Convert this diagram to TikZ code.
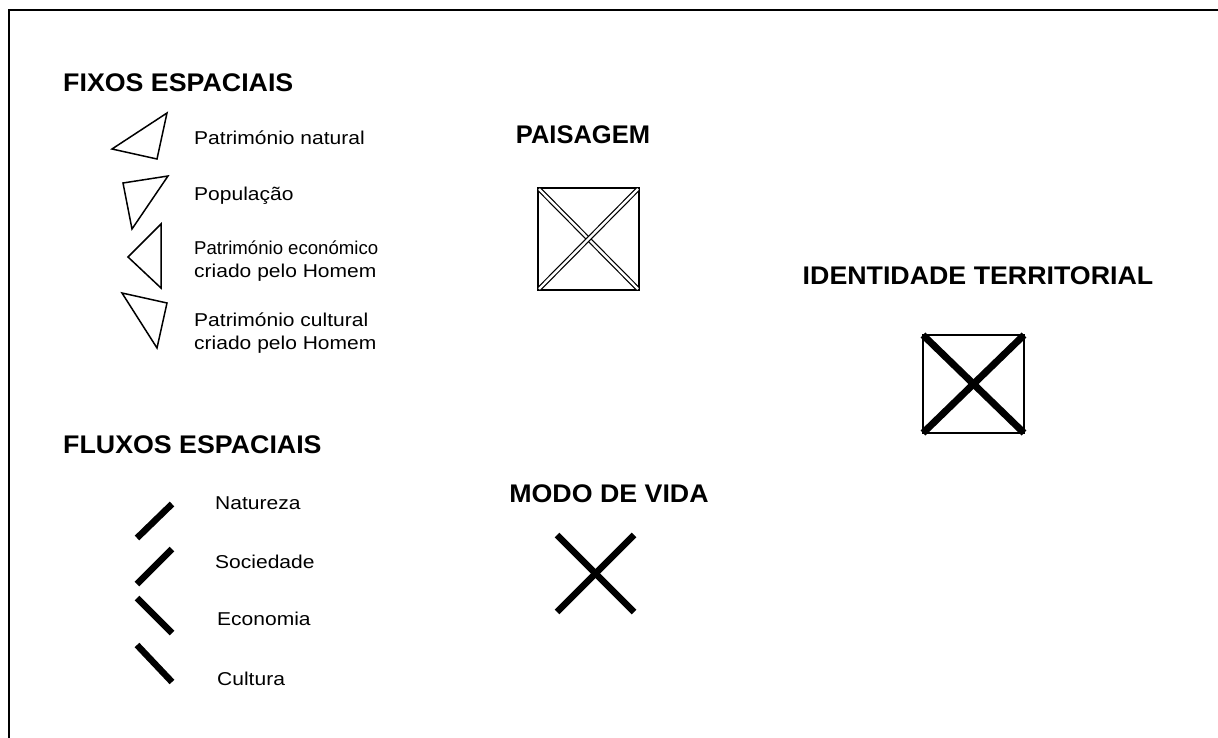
\documentclass[tikz,border=0pt]{standalone}
\usepackage{fontspec}
\setmainfont{Liberation Sans}
\newfontfamily\legendafont[FakeStretch=1.13]{Liberation Sans}
\newfontfamily\titulofont[FakeStretch=1.05]{Liberation Sans}
\usepackage{tikz}
\usetikzlibrary{positioning}

\tikzset{
    titletext/.style={font=\titulofont\fontsize{25.5}{30}\selectfont\bfseries, inner sep=0pt},
    labeltext/.style={font=\legendafont\fontsize{18.6}{22.3}\selectfont, inner sep=0pt, align=left},
    fixo/.style={line width=1.5pt, line join=miter},
    fluxo/.style={line width=6.5pt},
}

\begin{document}
\begin{tikzpicture}[x=1pt, y=-1pt]
    \useasboundingbox (0, 0) rectangle (1218, 738);

    % Frame (runs off the right and bottom edges)
    \draw[line width=1.8pt] (9, 760) -- (9, 10) -- (1240, 10);

    % Fixos espaciais
    \node[titletext, anchor=base west] (fixos) at (63, 92) {FIXOS ESPACIAIS};

    \draw[fixo] (112, 149) -- (167, 113) -- (157, 159) -- cycle;
    \node[labeltext, anchor=base west] (natural) at (194, 145) {Património natural};

    \draw[fixo] (123, 183) -- (168, 176) -- (132, 229) -- cycle;
    \node[labeltext, anchor=base west] (populacao) at (194, 201) {População};

    \draw[fixo] (161, 224) -- (128, 257) -- (161, 288) -- cycle;
    \node[labeltext, anchor=base west] (economico) at (194, 277)
        {\addfontfeature{FakeStretch=1.0}Património económico\\criado pelo Homem};

    \draw[fixo] (122, 293) -- (167, 303) -- (157, 348) -- cycle;
    \node[labeltext, anchor=base west] (cultural) at (194, 349) {Património cultural\\criado pelo Homem};

    % Fluxos espaciais
    \node[titletext, anchor=base west] (fluxos) at (63, 453) {FLUXOS ESPACIAIS};

    \draw[fluxo] (137, 538) -- (172, 504);
    \node[labeltext, anchor=base west] (natureza) at (215, 509) {Natureza};

    \draw[fluxo] (137, 584) -- (172, 549);
    \node[labeltext, anchor=base west] (sociedade) at (215, 568) {Sociedade};

    \draw[fluxo] (137, 598) -- (172, 633);
    \node[labeltext, anchor=base west] (economia) at (217, 625) {Economia};

    \draw[fluxo] (137, 645) -- (172, 682);
    \node[labeltext, anchor=base west] (cultura) at (217, 685) {Cultura};

    % Paisagem
    \node[font=\fontsize{25.5}{30}\selectfont\bfseries, inner sep=0pt, anchor=base] (paisagem) at (583, 144) {PAISAGEM};
    \draw[line width=1.4pt] (538, 188) rectangle (639, 290);
    \draw[line width=1.2pt, double, double distance=2.4pt] (539, 189) -- (638, 289);
    \draw[line width=1.2pt, double, double distance=2.4pt] (539, 289) -- (638, 189);

    % Modo de vida
    \node[titletext, anchor=base] (modo) at (609, 502) {MODO DE VIDA};
    \draw[fluxo] (557, 535) -- (634, 612);
    \draw[fluxo] (557, 612) -- (634, 535);

    % Identidade territorial
    \node[titletext, anchor=base] (identidade) at (978, 284) {IDENTIDADE TERRITORIAL};
    \draw[line width=1.3pt] (923, 335) rectangle (1024, 433);
    \draw[line width=7pt] (923, 335) -- (1024, 433);
    \draw[line width=7pt] (923, 433) -- (1024, 335);
\end{tikzpicture}
\end{document}
